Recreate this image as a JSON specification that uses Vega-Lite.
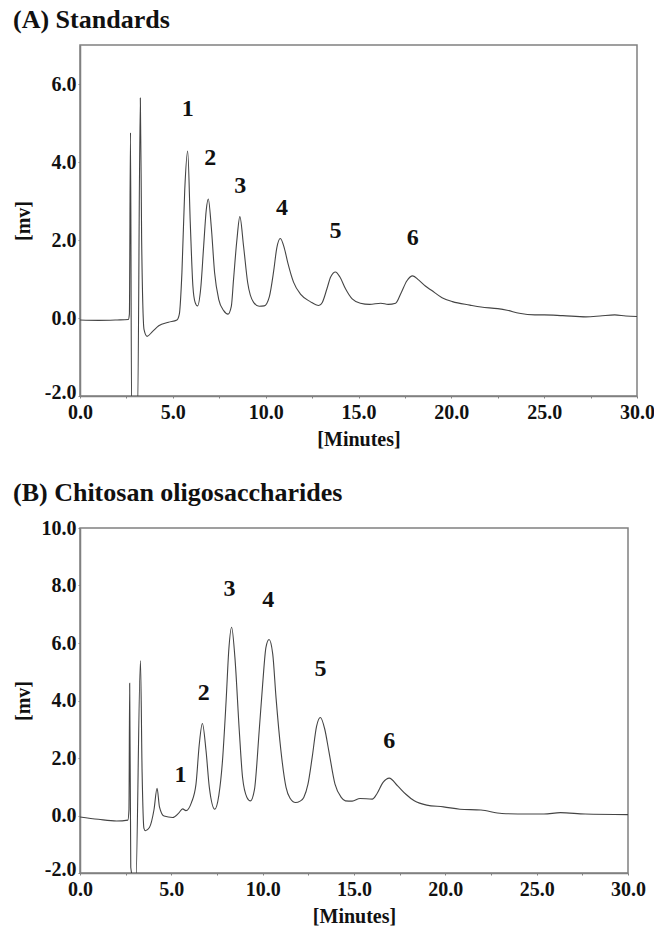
{
  "$schema": "https://vega.github.io/schema/vega-lite/v6.json",
  "padding": {"left": 12, "top": 6, "right": 4, "bottom": 4},
  "background": "white",
  "spacing": 29,
  "config": {
    "view": {"stroke": "#808080", "strokeWidth": 1.5},
    "axis": {
      "grid": false,
      "labelFont": "Liberation Serif",
      "labelFontWeight": "bold",
      "labelFontSize": 20,
      "labelColor": "#111",
      "titleFont": "Liberation Serif",
      "titleFontWeight": "bold",
      "titleFontSize": 20,
      "titleColor": "#111",
      "domainColor": "#808080",
      "domainWidth": 1.5,
      "tickColor": "#808080",
      "tickSize": 2,
      "labelPadding": 2,
      "labelFlush": false
    },
    "axisX": {"labelPadding": 4},
    "title": {
      "font": "Liberation Serif",
      "fontWeight": "bold",
      "fontSize": 26,
      "color": "#111",
      "anchor": "start",
      "frame": "bounds",
      "offset": 12
    }
  },
  "datasets": {
    "standards": [
      {"t": 0, "mv": -0.05}, {"t": 1.0, "mv": -0.06}, {"t": 2.0, "mv": -0.05}, {"t": 2.6, "mv": -0.04},
      {"t": 2.66, "mv": 0.1}, {"t": 2.72, "mv": 4.75}, {"t": 2.78, "mv": -2.5}, {"t": 3.1, "mv": -2.5},
      {"t": 3.25, "mv": 5.64}, {"t": 3.32, "mv": 2.0}, {"t": 3.45, "mv": -0.3}, {"t": 3.61, "mv": -0.47},
      {"t": 3.9, "mv": -0.35}, {"t": 4.24, "mv": -0.2}, {"t": 4.77, "mv": -0.11}, {"t": 5.22, "mv": -0.05},
      {"t": 5.35, "mv": 0.1}, {"t": 5.49, "mv": 1.17}, {"t": 5.64, "mv": 3.27}, {"t": 5.8, "mv": 4.28},
      {"t": 5.94, "mv": 2.43}, {"t": 6.08, "mv": 0.82}, {"t": 6.2, "mv": 0.4}, {"t": 6.33, "mv": 0.31},
      {"t": 6.5, "mv": 0.75}, {"t": 6.66, "mv": 1.84}, {"t": 6.8, "mv": 2.77}, {"t": 6.91, "mv": 3.05},
      {"t": 7.07, "mv": 2.34}, {"t": 7.25, "mv": 1.16}, {"t": 7.47, "mv": 0.48}, {"t": 7.74, "mv": 0.19},
      {"t": 7.97, "mv": 0.1}, {"t": 8.15, "mv": 0.3}, {"t": 8.27, "mv": 0.99}, {"t": 8.45, "mv": 2.0},
      {"t": 8.61, "mv": 2.6}, {"t": 8.81, "mv": 1.84}, {"t": 9.03, "mv": 0.91}, {"t": 9.35, "mv": 0.4},
      {"t": 9.65, "mv": 0.3}, {"t": 9.92, "mv": 0.31}, {"t": 10.2, "mv": 0.55}, {"t": 10.43, "mv": 1.2},
      {"t": 10.6, "mv": 1.8}, {"t": 10.79, "mv": 2.04}, {"t": 11.0, "mv": 1.8}, {"t": 11.2, "mv": 1.4},
      {"t": 11.5, "mv": 0.92}, {"t": 11.9, "mv": 0.6}, {"t": 12.4, "mv": 0.42}, {"t": 12.86, "mv": 0.32},
      {"t": 13.05, "mv": 0.4}, {"t": 13.3, "mv": 0.75}, {"t": 13.5, "mv": 1.05}, {"t": 13.76, "mv": 1.18},
      {"t": 14.0, "mv": 1.05}, {"t": 14.3, "mv": 0.75}, {"t": 14.66, "mv": 0.49}, {"t": 15.1, "mv": 0.38},
      {"t": 15.6, "mv": 0.35}, {"t": 16.2, "mv": 0.38}, {"t": 16.6, "mv": 0.35}, {"t": 17.0, "mv": 0.38},
      {"t": 17.3, "mv": 0.65}, {"t": 17.6, "mv": 0.95}, {"t": 17.92, "mv": 1.08}, {"t": 18.25, "mv": 0.97},
      {"t": 18.6, "mv": 0.82}, {"t": 18.93, "mv": 0.71}, {"t": 19.5, "mv": 0.52}, {"t": 20.06, "mv": 0.42},
      {"t": 21.0, "mv": 0.33}, {"t": 21.6, "mv": 0.28}, {"t": 22.5, "mv": 0.24}, {"t": 23.0, "mv": 0.2},
      {"t": 23.66, "mv": 0.12}, {"t": 24.5, "mv": 0.08}, {"t": 25.0, "mv": 0.08}, {"t": 26.0, "mv": 0.06},
      {"t": 27.25, "mv": 0.03}, {"t": 28.0, "mv": 0.05}, {"t": 28.8, "mv": 0.08}, {"t": 29.4, "mv": 0.05},
      {"t": 30.0, "mv": 0.04}
    ],
    "standardsPeaks": [
      {"t": 5.8, "mv": 5.35, "peak": "1"},
      {"t": 7.02, "mv": 4.1, "peak": "2"},
      {"t": 8.63, "mv": 3.38, "peak": "3"},
      {"t": 10.88, "mv": 2.82, "peak": "4"},
      {"t": 13.76, "mv": 2.23, "peak": "5"},
      {"t": 17.92, "mv": 2.04, "peak": "6"}
    ],
    "cos": [
      {"t": 0, "mv": -0.05}, {"t": 1.0, "mv": -0.13}, {"t": 2.0, "mv": -0.19}, {"t": 2.62, "mv": -0.16},
      {"t": 2.68, "mv": 0.2}, {"t": 2.72, "mv": 4.6}, {"t": 2.78, "mv": -1.81}, {"t": 3.05, "mv": -2.5},
      {"t": 3.31, "mv": 5.39}, {"t": 3.4, "mv": 1.5}, {"t": 3.5, "mv": -0.45}, {"t": 3.58, "mv": -0.53},
      {"t": 3.8, "mv": -0.42}, {"t": 4.05, "mv": 0.2}, {"t": 4.22, "mv": 0.95}, {"t": 4.35, "mv": 0.3},
      {"t": 4.6, "mv": -0.02}, {"t": 5.07, "mv": -0.07}, {"t": 5.4, "mv": 0.08}, {"t": 5.62, "mv": 0.23},
      {"t": 5.8, "mv": 0.17}, {"t": 6.1, "mv": 0.45}, {"t": 6.35, "mv": 1.09}, {"t": 6.53, "mv": 2.48},
      {"t": 6.7, "mv": 3.2}, {"t": 6.9, "mv": 2.25}, {"t": 7.08, "mv": 0.98}, {"t": 7.38, "mv": 0.22},
      {"t": 7.6, "mv": 0.7}, {"t": 7.8, "mv": 1.9}, {"t": 8.0, "mv": 4.0}, {"t": 8.15, "mv": 5.8},
      {"t": 8.3, "mv": 6.55}, {"t": 8.48, "mv": 5.5}, {"t": 8.72, "mv": 2.95}, {"t": 8.9, "mv": 1.32},
      {"t": 9.14, "mv": 0.63}, {"t": 9.33, "mv": 0.51}, {"t": 9.55, "mv": 0.9}, {"t": 9.81, "mv": 2.95},
      {"t": 10.0, "mv": 4.57}, {"t": 10.18, "mv": 5.85}, {"t": 10.35, "mv": 6.12}, {"t": 10.55, "mv": 5.62},
      {"t": 10.73, "mv": 4.11}, {"t": 11.0, "mv": 2.25}, {"t": 11.28, "mv": 0.98}, {"t": 11.5, "mv": 0.6},
      {"t": 11.8, "mv": 0.45}, {"t": 12.05, "mv": 0.5}, {"t": 12.25, "mv": 0.63}, {"t": 12.48, "mv": 1.09},
      {"t": 12.71, "mv": 2.02}, {"t": 12.95, "mv": 3.1}, {"t": 13.16, "mv": 3.41}, {"t": 13.4, "mv": 3.0},
      {"t": 13.62, "mv": 2.25}, {"t": 13.96, "mv": 1.09}, {"t": 14.3, "mv": 0.63}, {"t": 14.53, "mv": 0.51},
      {"t": 14.9, "mv": 0.5}, {"t": 15.33, "mv": 0.59}, {"t": 16.0, "mv": 0.57}, {"t": 16.24, "mv": 0.74},
      {"t": 16.59, "mv": 1.15}, {"t": 16.93, "mv": 1.3}, {"t": 17.39, "mv": 1.03}, {"t": 17.84, "mv": 0.74},
      {"t": 18.3, "mv": 0.51}, {"t": 18.98, "mv": 0.36}, {"t": 19.9, "mv": 0.3}, {"t": 20.8, "mv": 0.22},
      {"t": 21.95, "mv": 0.19}, {"t": 23.1, "mv": 0.07}, {"t": 24.5, "mv": 0.05}, {"t": 25.4, "mv": 0.05},
      {"t": 26.3, "mv": 0.1}, {"t": 27.65, "mv": 0.05}, {"t": 30.0, "mv": 0.03}
    ],
    "cosPeaks": [
      {"t": 5.5, "mv": 1.42, "peak": "1"},
      {"t": 6.78, "mv": 4.25, "peak": "2"},
      {"t": 8.19, "mv": 7.89, "peak": "3"},
      {"t": 10.31, "mv": 7.5, "peak": "4"},
      {"t": 13.16, "mv": 5.08, "peak": "5"},
      {"t": 16.93, "mv": 2.58, "peak": "6"}
    ]
  },
  "vconcat": [
    {
      "title": {"text": "(A) Standards"},
      "width": 557,
      "height": 351,
      "layer": [
        {
          "data": {"name": "standards"},
          "mark": {"type": "line", "clip": true, "color": "#444444", "strokeWidth": 1.1, "interpolate": "monotone"},
          "encoding": {
            "x": {"field": "t", "type": "quantitative",
                  "scale": {"domain": [0, 30], "nice": false},
                  "axis": {"title": "[Minutes]", "titlePadding": 7,
                           "values": [0, 2.5, 5, 7.5, 10, 12.5, 15, 17.5, 20, 22.5, 25, 27.5, 30],
                           "labelExpr": "datum.value % 5 == 0 ? format(datum.value, '.1f') : ''"}},
            "y": {"field": "mv", "type": "quantitative",
                  "scale": {"domain": [-2, 7], "nice": false, "zero": false},
                  "axis": {"title": "[mv]", "titleX": -57, "titleBaseline": "middle",
                           "values": [-2, 0, 2, 4, 6],
                           "labelOffset": {"condition": {"test": "datum.value == -2", "value": -4}, "value": 0},
                           "labelExpr": "(datum.value < 0 ? '-' : '') + format(abs(datum.value), '.1f')"}}
          }
        },
        {
          "data": {"name": "standardsPeaks"},
          "mark": {"type": "text", "font": "Liberation Serif", "fontWeight": "bold", "fontSize": 24, "baseline": "middle", "align": "center", "color": "#111"},
          "encoding": {
            "x": {"field": "t", "type": "quantitative"},
            "y": {"field": "mv", "type": "quantitative"},
            "text": {"field": "peak"}
          }
        }
      ]
    },
    {
      "title": {"text": "(B) Chitosan oligosaccharides"},
      "width": 548,
      "height": 345,
      "layer": [
        {
          "data": {"name": "cos"},
          "mark": {"type": "line", "clip": true, "color": "#444444", "strokeWidth": 1.1, "interpolate": "monotone"},
          "encoding": {
            "x": {"field": "t", "type": "quantitative",
                  "scale": {"domain": [0, 30], "nice": false},
                  "axis": {"title": "[Minutes]", "titlePadding": 7,
                           "values": [0, 2.5, 5, 7.5, 10, 12.5, 15, 17.5, 20, 22.5, 25, 27.5, 30],
                           "labelExpr": "datum.value % 5 == 0 ? format(datum.value, '.1f') : ''"}},
            "y": {"field": "mv", "type": "quantitative",
                  "scale": {"domain": [-2, 10], "nice": false, "zero": false},
                  "axis": {"title": "[mv]", "titleX": -57, "titleBaseline": "middle",
                           "values": [-2, 0, 2, 4, 6, 8, 10],
                           "labelOffset": {"condition": {"test": "datum.value == -2", "value": -4}, "value": 0},
                           "labelExpr": "(datum.value < 0 ? '-' : '') + format(abs(datum.value), '.1f')"}}
          }
        },
        {
          "data": {"name": "cosPeaks"},
          "mark": {"type": "text", "font": "Liberation Serif", "fontWeight": "bold", "fontSize": 24, "baseline": "middle", "align": "center", "color": "#111"},
          "encoding": {
            "x": {"field": "t", "type": "quantitative"},
            "y": {"field": "mv", "type": "quantitative"},
            "text": {"field": "peak"}
          }
        }
      ]
    }
  ]
}
